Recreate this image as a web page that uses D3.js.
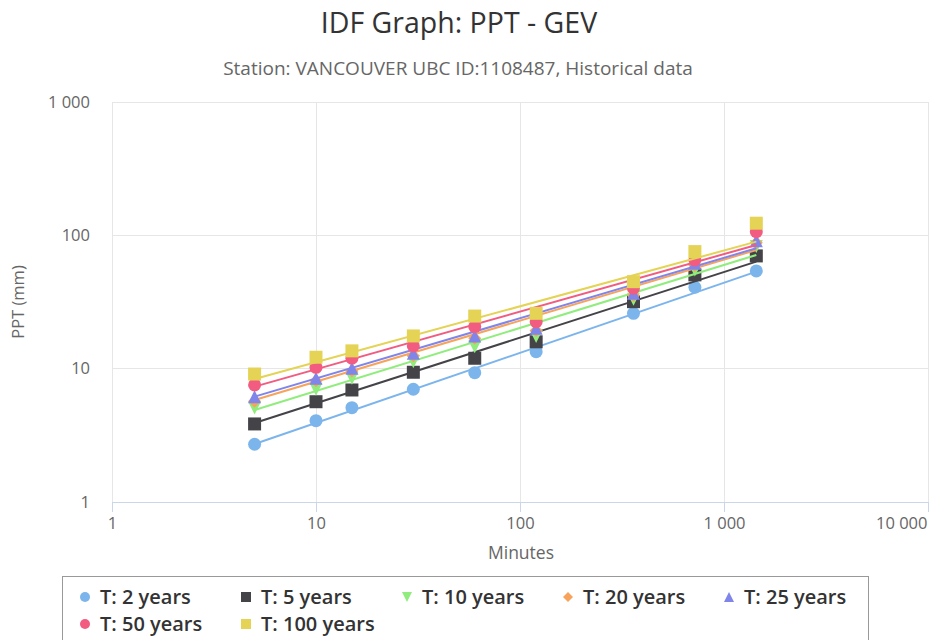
<!DOCTYPE html>
<html><head><meta charset="utf-8">
<script src="https://cdn.jsdelivr.net/npm/d3@7"></script>
<style>body{margin:0;background:#fff} svg{display:block}</style>
</head><body>
<svg id="c" width="929" height="640"></svg>
<script>
// ---- data ----
const durations = [5, 10, 15, 30, 60, 120, 360, 720, 1440];
const seriesNames = ["T: 2 years", "T: 5 years", "T: 10 years", "T: 20 years", "T: 25 years", "T: 50 years", "T: 100 years"];
const t2   = [2.71, 4.07, 5.10, 7.01, 9.33, 13.4, 26.0, 40.8, 54.1];
const t5   = [3.85, 5.65, 6.92, 9.40, 11.97, 15.9, 31.8, 50.5, 70.1];
const t10  = [5.07, 7.01, 8.47, 11.28, 14.6, 17.4, 33.2, 55.0, 82.3];
const t20  = [5.70, 8.10, 9.60, 12.5, 16.9, 19.3, 35.4, 59.5, 87.8];
const t25  = [6.17, 8.47, 10.07, 13.05, 17.6, 20.1, 36.8, 61.8, 91.2];
const t50  = [7.55, 10.24, 11.97, 14.8, 20.7, 22.5, 40.1, 65.4, 106.6];
const t100 = [9.12, 12.18, 13.6, 17.6, 24.8, 26.0, 44.9, 75.5, 123.3];
// fitted trend lines (value at first and last duration)
const fitDurations = [5, 1440];
const fit2   = [2.72, 53.4];
const fit5   = [3.91, 63.5];
const fit10  = [4.90, 71.3];
const fit20  = [5.82, 77.7];
const fit25  = [6.17, 80.0];
const fit50  = [7.33, 84.7];
const fit100 = [8.37, 89.7];
const xTicks = [1, 10, 100, 1000, 10000];
const xTickLabels = ["1", "10", "100", "1 000", "10 000"];
const yTicks = [1, 10, 100, 1000];
const yTickLabels = ["1", "10", "100", "1 000"];

const colors = ["#7cb5ec", "#434348", "#90ed7d", "#f7a35c", "#8085e9", "#f15c80", "#e4d354"];
const symbols = ["circle", "square", "triangle-down", "diamond", "triangle", "circle", "square"];
const pointSets = [t2, t5, t10, t20, t25, t50, t100];
const fitSets = [fit2, fit5, fit10, fit20, fit25, fit50, fit100];

const FONT = "'Open Sans', 'Noto Sans', sans-serif";
const svg = d3.select("#c");
const plot = {left: 112, right: 928, top: 102, bottom: 502};

const x = d3.scaleLog().domain([1, 10000]).range([plot.left, plot.right]);
const y = d3.scaleLog().domain([1, 1000]).range([plot.bottom, plot.top]);

function symPath(type, r) {
  switch (type) {
    case "circle": return `M${-r},0A${r},${r} 0 1,0 ${r},0A${r},${r} 0 1,0 ${-r},0Z`;
    case "square": return `M${-r},${-r}H${r}V${r}H${-r}Z`;
    case "triangle": return `M0,${-r}L${r},${r}L${-r},${r}Z`;
    case "triangle-down": return `M0,${r}L${r},${-r}L${-r},${-r}Z`;
    case "diamond": return `M0,${-r}L${r},0L0,${r}L${-r},0Z`;
  }
}

// title
svg.append("text").attr("x", 459).attr("y", 33).attr("text-anchor", "middle")
  .attr("font-family", FONT).attr("font-size", 28.5).attr("fill", "#333")
  .text("IDF Graph: PPT - GEV");
svg.append("text").attr("x", 458).attr("y", 75).attr("text-anchor", "middle")
  .attr("font-family", FONT).attr("font-size", 19).attr("fill", "#666")
  .text("Station: VANCOUVER UBC ID:1108487, Historical data");

// grid
const g = svg.append("g");
g.selectAll(".vg").data(xTicks).join("line")
  .attr("x1", d => x(d)).attr("x2", d => x(d)).attr("y1", plot.top).attr("y2", plot.bottom)
  .attr("stroke", "#e6e6e6").attr("stroke-width", 1).attr("shape-rendering", "crispEdges");
g.selectAll(".hg").data(yTicks).join("line")
  .attr("x1", plot.left).attr("x2", plot.right).attr("y1", d => y(d)).attr("y2", d => y(d))
  .attr("stroke", "#e6e6e6").attr("stroke-width", 1).attr("shape-rendering", "crispEdges");

// x axis
const xAxis = d3.axisBottom(x).tickValues(xTicks).tickFormat((d, i) => xTickLabels[i]).tickSize(10).tickPadding(5);
const xg = svg.append("g").attr("transform", `translate(0,${plot.bottom})`).call(xAxis);
xg.select(".domain").attr("stroke", "#ccd6eb").attr("d", `M${plot.left},0.5H${plot.right}`);
xg.selectAll(".tick line").attr("stroke", "#ccd6eb");
xg.selectAll(".tick text").attr("font-family", FONT).attr("font-size", 16.5).attr("fill", "#666");
xg.selectAll(".tick text").filter((d, i) => i === xTicks.length - 1).attr("text-anchor", "end").attr("x", -1);

// y axis
const yAxis = d3.axisLeft(y).tickValues(yTicks).tickFormat((d, i) => yTickLabels[i]).tickSize(0).tickPadding(22);
const yg = svg.append("g").attr("transform", `translate(${plot.left},0)`).call(yAxis);
yg.select(".domain").remove();
yg.selectAll(".tick text").attr("font-family", FONT).attr("font-size", 16.5).attr("fill", "#666");

// axis titles
svg.append("text").attr("x", 521).attr("y", 559).attr("text-anchor", "middle")
  .attr("font-family", FONT).attr("font-size", 17.5).attr("fill", "#666").text("Minutes");
svg.append("text").attr("transform", `translate(24,302) rotate(-90)`).attr("text-anchor", "middle")
  .attr("font-family", FONT).attr("font-size", 16.5).attr("fill", "#666").text("PPT (mm)");

// series
const line = d3.line().x(d => x(d[0])).y(d => y(d[1]));
pointSets.forEach((vals, si) => {
  const sg = svg.append("g");
  sg.append("path").datum(fitDurations.map((d, i) => [d, fitSets[si][i]]))
    .attr("d", line).attr("fill", "none").attr("stroke", colors[si]).attr("stroke-width", 2);
  sg.selectAll("path.m").data(durations.map((d, i) => [d, vals[i]])).join("path").attr("class", "m")
    .attr("transform", d => `translate(${x(d[0])},${y(d[1])})`)
    .attr("d", symPath(symbols[si], 6.5)).attr("fill", colors[si]);
});

// legend
const lg = svg.append("g");
lg.append("rect").attr("x", 62.5).attr("y", 576.5).attr("width", 806).attr("height", 90)
  .attr("fill", "none").attr("stroke", "#999").attr("stroke-width", 1);
seriesNames.forEach((name, i) => {
  const col = i % 5, row = Math.floor(i / 5);
  const cx = 85 + col * 161, cy = 597 + row * 27;
  lg.append("path").attr("transform", `translate(${cx},${cy})`)
    .attr("d", symPath(symbols[i], 5)).attr("fill", colors[i]);
  lg.append("text").attr("x", cx + 15).attr("y", cy + 7)
    .attr("font-family", FONT).attr("font-size", 20).attr("font-weight", 600).attr("fill", "#333")
    .text(name);
});
</script>
</body></html>
